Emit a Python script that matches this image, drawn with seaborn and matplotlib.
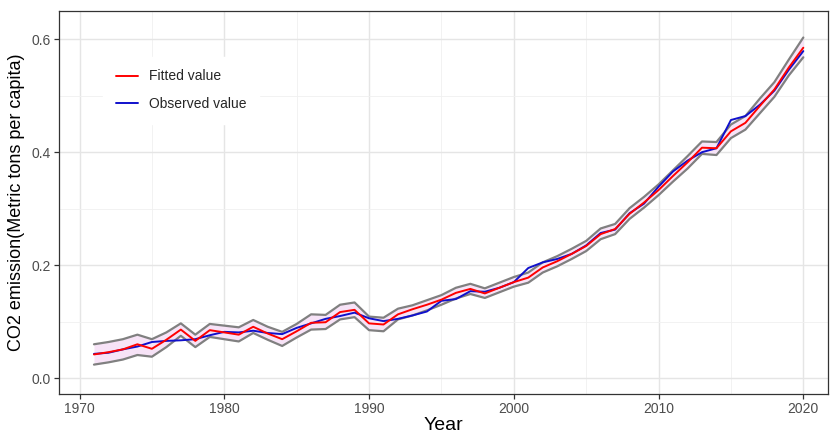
import numpy as np
import pandas as pd
import matplotlib
matplotlib.use("Agg")
import matplotlib.pyplot as plt
import seaborn as sns
from matplotlib.ticker import MultipleLocator

years = list(range(1971, 2021))

fitted = [0.042, 0.046, 0.051, 0.060, 0.052, 0.068, 0.086, 0.066, 0.085, 0.081,
          0.077, 0.091, 0.079, 0.069, 0.083, 0.098, 0.099, 0.117, 0.121, 0.097,
          0.095, 0.113, 0.122, 0.130, 0.139, 0.151, 0.158, 0.150, 0.160, 0.170,
          0.178, 0.196, 0.207, 0.220, 0.234, 0.255, 0.264, 0.291, 0.311, 0.333,
          0.358, 0.382, 0.408, 0.407, 0.437, 0.452, 0.482, 0.511, 0.550, 0.585]

observed = [0.043, 0.045, 0.051, 0.056, 0.064, 0.066, 0.067, 0.069, 0.076, 0.082,
            0.081, 0.084, 0.080, 0.078, 0.089, 0.097, 0.105, 0.110, 0.116, 0.106,
            0.101, 0.105, 0.111, 0.118, 0.137, 0.140, 0.154, 0.153, 0.160, 0.170,
            0.195, 0.205, 0.211, 0.220, 0.235, 0.257, 0.263, 0.292, 0.309, 0.339,
            0.366, 0.385, 0.400, 0.407, 0.457, 0.464, 0.484, 0.509, 0.546, 0.579]

lower = [0.024, 0.028, 0.033, 0.041, 0.038, 0.055, 0.075, 0.055, 0.073, 0.069,
         0.065, 0.080, 0.068, 0.057, 0.072, 0.086, 0.087, 0.104, 0.108, 0.085,
         0.083, 0.104, 0.111, 0.120, 0.130, 0.141, 0.149, 0.142, 0.152, 0.162,
         0.169, 0.187, 0.198, 0.211, 0.225, 0.246, 0.255, 0.282, 0.302, 0.324,
         0.348, 0.371, 0.397, 0.395, 0.425, 0.440, 0.469, 0.498, 0.536, 0.568]

upper = [0.060, 0.064, 0.069, 0.077, 0.069, 0.081, 0.097, 0.077, 0.096, 0.093,
         0.090, 0.103, 0.091, 0.082, 0.096, 0.113, 0.112, 0.130, 0.134, 0.109,
         0.107, 0.123, 0.129, 0.138, 0.147, 0.160, 0.167, 0.159, 0.169, 0.179,
         0.187, 0.205, 0.216, 0.229, 0.243, 0.265, 0.273, 0.301, 0.321, 0.343,
         0.368, 0.393, 0.419, 0.418, 0.449, 0.464, 0.495, 0.524, 0.564, 0.603]

x_ticks = [1970, 1980, 1990, 2000, 2010, 2020]
y_ticks = [0.0, 0.2, 0.4, 0.6]

sns.set_theme(style="white")
plt.rcParams['font.family'] = ['Liberation Sans', 'DejaVu Sans']

df = pd.DataFrame({"Year": years, "Fitted value": fitted, "Observed value": observed,
                   "lower": lower, "upper": upper})

fig = plt.figure(figsize=(8.3, 4.34), dpi=100)
ax = fig.add_axes([0.0705, 0.0922, 0.927, 0.8825])

ax.fill_between(df["Year"], df["lower"], df["upper"], color="#F7E3F7", zorder=2, linewidth=0)
sns.lineplot(data=df, x="Year", y="upper", ax=ax, color="#808080", linewidth=1.6, zorder=3)
sns.lineplot(data=df, x="Year", y="lower", ax=ax, color="#808080", linewidth=1.6, zorder=3)
sns.lineplot(data=df, x="Year", y="Observed value", ax=ax, color="#1010CC", linewidth=1.4,
             zorder=4, label="Observed value")
sns.lineplot(data=df, x="Year", y="Fitted value", ax=ax, color="#FF0000", linewidth=1.4,
             zorder=5, label="Fitted value")

ax.set_xlim(1968.55, 2021.7)
ax.set_ylim(-0.028, 0.65)
ax.set_xticks(x_ticks)
ax.set_xticklabels([str(t) for t in x_ticks])
ax.set_yticks(y_ticks)
ax.set_yticklabels([f"{t:.1f}" for t in y_ticks])
ax.xaxis.set_minor_locator(MultipleLocator(5))
ax.yaxis.set_minor_locator(MultipleLocator(0.1))

ax.grid(which="major", color="#E5E5E5", linewidth=1.0, zorder=0)
ax.grid(which="minor", color="#F0F0F0", linewidth=0.6, zorder=0)
ax.set_axisbelow(True)
for s in ax.spines.values():
    s.set_color("#333333")
    s.set_linewidth(0.9)

ax.tick_params(axis="both", which="major", direction="out", length=3.5, width=0.9,
               color="#333333", labelsize=10, labelcolor="#4D4D4D", bottom=True, left=True,
               pad=2)
ax.tick_params(which="minor", length=0)

ax.set_xlabel("Year", fontsize=14, color="black", labelpad=1)
ax.set_ylabel("CO2 emission(Metric tons per capita)", fontsize=13, color="black", labelpad=5)

handles, labels = ax.get_legend_handles_labels()
order = [labels.index("Fitted value"), labels.index("Observed value")]
leg = ax.legend([handles[i] for i in order], [labels[i] for i in order],
                loc="upper left", bbox_to_anchor=(0.058, 0.88), frameon=True,
                fontsize=10, handlelength=1.6, handletextpad=0.8, labelspacing=1.0,
                borderpad=0.9, borderaxespad=0)
leg.get_frame().set_facecolor("white")
leg.get_frame().set_edgecolor("white")
leg.get_frame().set_alpha(1.0)
leg.get_frame().set_boxstyle("square", pad=0)

fig.savefig("out.png", dpi=100)
